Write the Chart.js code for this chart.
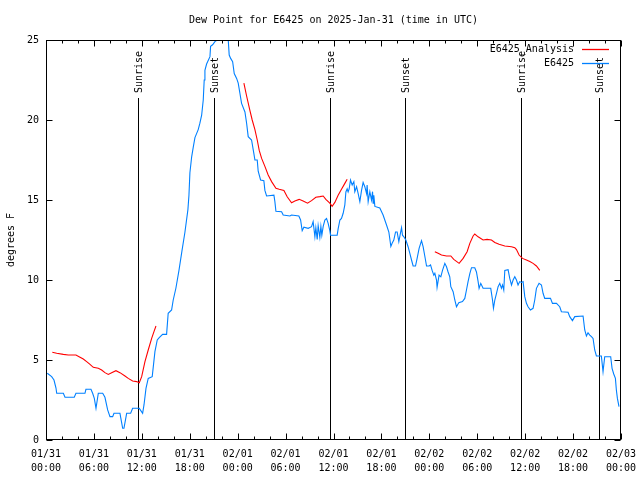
<!DOCTYPE html>
<html>
<head>
<meta charset="utf-8">
<script src="https://cdn.jsdelivr.net/npm/chart.js@4"></script>
<style>
html,body{margin:0;padding:0;background:#fff;}
#wrap{width:640px;height:480px;}
</style>
</head>
<body>
<div id="wrap"><canvas id="c" width="640" height="480"></canvas></div>
<script>
// ---- data (hours since 2025-01-31 00:00 UTC) ----
const titleText = 'Dew Point for E6425 on 2025-Jan-31 (time in UTC)';
const yTitle = 'degrees F';

const obsHours = [0.16,0.71,1.0,1.25,1.34,2.17,2.38,3.54,3.75,4.88,5.0,5.63,5.84,6.05,6.26,6.55,7.1,7.38,7.72,8.01,8.35,8.51,9.26,9.6,9.76,10.1,10.6,10.85,11.68,12.1,12.27,12.52,12.8,13.3,13.64,13.93,14.18,14.6,15.1,15.3,15.73,15.93,16.27,16.65,17.02,17.4,17.77,17.9,18.02,18.24,18.44,18.65,19.06,19.27,19.49,19.69,19.81,19.9,20.11,20.53,20.61,20.86,21.15,21.44,22.82,22.94,23.12,23.37,23.57,23.87,24.07,24.28,24.49,24.91,25.12,25.32,25.74,26.03,26.16,26.45,26.57,26.87,27.28,27.41,27.62,28.54,28.66,28.79,29.5,29.7,30.54,30.75,31.66,31.88,32.08,32.29,32.83,33.25,33.45,33.67,33.79,33.96,34.08,34.29,34.42,34.54,34.71,34.92,35.13,35.33,35.54,35.63,36.46,36.58,36.8,37.0,37.21,37.42,37.55,37.71,37.83,37.96,38.13,38.34,38.55,38.67,38.89,39.09,39.3,39.51,39.71,39.92,40.14,40.21,40.34,40.55,40.76,40.89,40.96,41.05,41.18,41.8,42.21,42.64,42.93,43.18,43.34,43.55,43.77,43.97,44.18,44.39,44.52,44.64,44.81,45.06,45.34,45.56,45.77,45.97,46.27,46.47,46.72,47.02,47.22,47.52,47.65,47.97,48.15,48.35,48.56,48.69,48.9,48.97,49.22,49.44,49.65,49.94,50.15,50.35,50.56,50.69,50.98,51.19,51.4,51.69,52.15,52.44,52.65,52.85,53.07,53.28,53.69,53.9,54.11,54.23,54.44,54.73,55.69,55.91,56.03,56.2,56.41,56.61,56.82,57.03,57.16,57.32,57.45,57.86,58.07,58.29,58.49,58.7,58.91,59.11,59.32,59.54,59.74,59.95,60.16,60.36,60.66,60.99,61.2,61.41,61.74,62.04,62.24,62.45,63.17,63.42,63.92,64.33,64.54,65.37,65.58,65.92,66.21,67.25,67.46,67.67,67.87,68.09,68.3,68.5,68.71,68.92,69.54,69.75,69.96,70.71,70.88,71.09,71.3,71.42,71.55,71.75];
const obsValues = [4.17,3.96,3.75,3.25,2.92,2.92,2.67,2.67,2.92,2.92,3.17,3.17,2.92,2.6,1.98,2.92,2.92,2.67,1.88,1.46,1.46,1.67,1.67,0.73,0.73,1.67,1.67,1.98,1.98,1.67,2.19,3.23,3.85,3.96,5.52,6.25,6.4,6.6,6.6,7.92,8.13,8.75,9.5,10.6,11.8,13.0,14.4,15.3,16.7,17.7,18.3,18.9,19.4,19.8,20.3,21.25,22.5,23.1,23.5,23.96,24.6,24.7,24.9,25,25,24.06,23.85,23.65,22.9,22.6,22.3,21.67,21.04,20.5,19.8,18.96,18.75,17.9,17.5,17.5,16.8,16.25,16.2,15.6,15.25,15.3,14.9,14.3,14.27,14.06,14.0,14.06,14.0,13.75,13.08,13.3,13.23,13.33,13.65,12.7,13.27,12.54,13.4,12.67,13.35,12.8,13.35,13.75,13.85,13.54,13.08,12.8,12.8,13.2,13.75,13.85,14.17,14.7,15.5,15.7,15.5,15.7,16.25,15.94,16.15,15.52,15.83,15.4,14.9,15.6,16.1,15.83,15.4,15.94,14.9,15.52,15.0,15.52,14.8,15.3,14.6,14.5,14.06,13.44,13.0,12.1,12.3,12.5,13.0,13.0,12.4,12.95,13.27,12.8,12.7,12.5,12.08,11.67,11.25,10.875,10.875,11.35,11.98,12.46,12.08,11.25,10.875,10.875,10.94,10.6,10.3,10.42,10.0,9.54,10.3,10.2,10.6,11.04,10.83,10.5,10.2,9.58,9.27,8.75,8.33,8.58,8.65,8.85,9.375,9.9,10.4,10.77,10.77,10.5,9.9,9.48,9.79,9.48,9.48,8.75,8.23,8.75,9.17,9.58,9.79,9.48,9.69,9.375,10.6,10.65,10.1,9.69,10.0,10.2,10.0,9.69,9.9,9.85,9.9,8.96,8.54,8.33,8.125,8.23,8.75,9.48,9.79,9.69,9.17,8.85,8.85,8.54,8.54,8.33,8.02,7.98,7.71,7.46,7.71,7.75,6.875,6.5,6.7,6.56,6.46,6.35,5.625,5.25,5.25,4.27,5.2,5.2,4.48,4.125,3.85,3.125,2.6,2.08];

const anaHours = [0.79,1.34,2.17,2.79,3.75,4.26,4.67,5.09,5.51,5.92,6.55,6.97,7.38,7.8,8.22,8.76,9.26,9.89,10.3,10.85,11.35,11.68,11.98,12.39,12.8,13.23,13.52,13.77,
  18,
  24.78,25.12,25.53,25.82,26.16,26.45,26.7,27.0,27.41,27.82,28.25,28.79,29.2,29.79,30.2,30.75,31.16,31.7,32.2,32.75,33.25,33.79,34.29,34.71,35.04,35.54,35.83,36.17,36.58,37.0,37.42,37.71,
  42,
  48.69,49.1,49.52,50.15,50.69,51.06,51.73,52.23,52.73,53.07,53.48,53.69,54.11,54.73,55.23,55.78,56.2,56.73,57.45,58.29,58.7,58.91,59.24,59.66,60.16,60.58,60.99,61.41,61.83];
const anaValues = [5.48,5.42,5.35,5.31,5.31,5.17,5.06,4.9,4.73,4.54,4.48,4.375,4.21,4.1,4.21,4.33,4.21,4.0,3.85,3.69,3.65,3.58,3.96,4.9,5.625,6.35,6.77,7.125,
  null,
  22.3,21.5,20.6,20.0,19.4,18.75,18.1,17.6,17.1,16.56,16.15,15.73,15.67,15.6,15.2,14.83,14.94,15.04,14.94,14.8,14.96,15.17,15.21,15.25,15.04,14.8,14.6,14.85,15.3,15.67,16.04,16.3,
  null,
  11.77,11.67,11.56,11.5,11.5,11.29,11.04,11.35,11.77,12.29,12.75,12.875,12.7,12.5,12.54,12.5,12.35,12.23,12.125,12.08,12.02,11.9,11.56,11.35,11.25,11.15,11.04,10.875,10.6];

const eventHours = [11.5, 21.0, 35.5, 45.0, 59.5, 69.2];
const eventLabels = ['Sunrise','Sunset','Sunrise','Sunset','Sunrise','Sunset'];

const xMajorHours = [0,6,12,18,24,30,36,42,48,54,60,66,72];
const xTickLabels = [['01/31','00:00'],['01/31','06:00'],['01/31','12:00'],['01/31','18:00'],
  ['02/01','00:00'],['02/01','06:00'],['02/01','12:00'],['02/01','18:00'],
  ['02/02','00:00'],['02/02','06:00'],['02/02','12:00'],['02/02','18:00'],['02/03','00:00']];
const xMinorStep = 2;
const yTickValues = [0,5,10,15,20,25];

const seriesNames = ['E6425_Analysis','E6425'];
const seriesColors = ['#ff0000','#0080ff'];

// ---- chart ----
const FONT = '"DejaVu Sans Mono", monospace';
const toPts = (xs, ys) => xs.map((x, i) => ({x: x, y: ys[i]}));

const xTickList = [];
for (let h = 0; h <= 72; h += xMinorStep) xTickList.push(h);

const overlay = {
  id: 'overlay',
  beforeDatasetsDraw(chart) {
    const ctx = chart.ctx, a = chart.chartArea, xs = chart.scales.x;
    ctx.save();
    ctx.strokeStyle = '#000';
    ctx.lineWidth = 1;
    ctx.fillStyle = '#000';
    ctx.font = '10px ' + FONT;
    eventHours.forEach((h, i) => {
      const px = Math.round(xs.getPixelForValue(h)) + 0.5;
      ctx.beginPath();
      ctx.moveTo(px, a.top + 58);
      ctx.lineTo(px, a.bottom);
      ctx.stroke();
      ctx.save();
      ctx.translate(px + 1, a.top + 53);
      ctx.rotate(-Math.PI / 2);
      ctx.textAlign = 'left';
      ctx.textBaseline = 'middle';
      ctx.fillText(eventLabels[i], 0, 0);
      ctx.restore();
    });
    ctx.restore();
  },
  afterDraw(chart) {
    const ctx = chart.ctx, a = chart.chartArea, xs = chart.scales.x, ys = chart.scales.y;
    ctx.save();
    ctx.strokeStyle = '#000';
    ctx.lineWidth = 1;
    const L = Math.round(a.left) + 0.5, R = Math.round(a.right) - 0.5;
    const T = Math.round(a.top) + 0.5, B = Math.round(a.bottom) - 0.5;
    ctx.strokeRect(L, T, R - L, B - T);
    ctx.beginPath();
    xTickList.forEach(h => {
      const px = Math.round(xs.getPixelForValue(h)) + 0.5;
      const len = (h % 6 === 0) ? 6 : 3;
      ctx.moveTo(px, B); ctx.lineTo(px, B - len);
      ctx.moveTo(px, T); ctx.lineTo(px, T + len);
    });
    yTickValues.forEach(v => {
      const py = Math.round(ys.getPixelForValue(v)) + 0.5;
      ctx.moveTo(L, py); ctx.lineTo(L + 6, py);
      ctx.moveTo(R, py); ctx.lineTo(R - 6, py);
    });
    ctx.stroke();
    // title
    ctx.fillStyle = '#000';
    ctx.font = '10px ' + FONT;
    ctx.textAlign = 'center';
    ctx.textBaseline = 'middle';
    ctx.fillText(titleText, (a.left + a.right) / 2, 20);
    // legend
    ctx.textAlign = 'right';
    const legY = [49, 63];
    seriesNames.forEach((n, i) => {
      ctx.fillStyle = '#000';
      ctx.fillText(n, a.right - 47, legY[i]);
      ctx.strokeStyle = seriesColors[i];
      ctx.lineWidth = 1.3;
      ctx.beginPath();
      ctx.moveTo(a.right - 39, legY[i] + 0.5);
      ctx.lineTo(a.right - 12, legY[i] + 0.5);
      ctx.stroke();
    });
    ctx.restore();
  }
};

new Chart(document.getElementById('c'), {
  type: 'line',
  data: {
    datasets: [
      {label: seriesNames[0], data: toPts(anaHours, anaValues), borderColor: seriesColors[0],
       borderWidth: 1.1, pointRadius: 0, tension: 0, spanGaps: false, order: 2},
      {label: seriesNames[1], data: toPts(obsHours, obsValues), borderColor: seriesColors[1],
       borderWidth: 1.1, pointRadius: 0, tension: 0, order: 1}
    ]
  },
  options: {
    responsive: false,
    animation: false,
    devicePixelRatio: 1,
    layout: {padding: {top: 40, right: 19, left: 0, bottom: 0}},
    plugins: {legend: {display: false}, tooltip: {enabled: false}, title: {display: false}},
    scales: {
      x: {
        type: 'linear', min: 0, max: 72,
        grid: {display: false, drawTicks: false},
        border: {display: false},
        afterBuildTicks: s => { s.ticks = xTickList.map(v => ({value: v})); },
        afterFit: s => { s.height = 40; s.paddingLeft = 0; s.paddingRight = 0; },
        ticks: {
          autoSkip: false, maxRotation: 0, minRotation: 0, padding: 7, color: '#000',
          font: {family: FONT, size: 10, lineHeight: 1.4},
          callback: v => { const i = xMajorHours.indexOf(v); return i >= 0 ? xTickLabels[i] : ''; }
        }
      },
      y: {
        min: 0, max: 25,
        grid: {display: false, drawTicks: false},
        border: {display: false},
        afterBuildTicks: s => { s.ticks = yTickValues.map(v => ({value: v})); },
        afterFit: s => { s.width = 46; s.paddingTop = 0; s.paddingBottom = 0; },
        ticks: {padding: 7, color: '#000', font: {family: FONT, size: 10}},
        title: {display: true, text: yTitle, color: '#000', font: {family: FONT, size: 10}, padding: {top: 5, bottom: 0}}
      }
    }
  },
  plugins: [overlay]
});
</script>
</body>
</html>
